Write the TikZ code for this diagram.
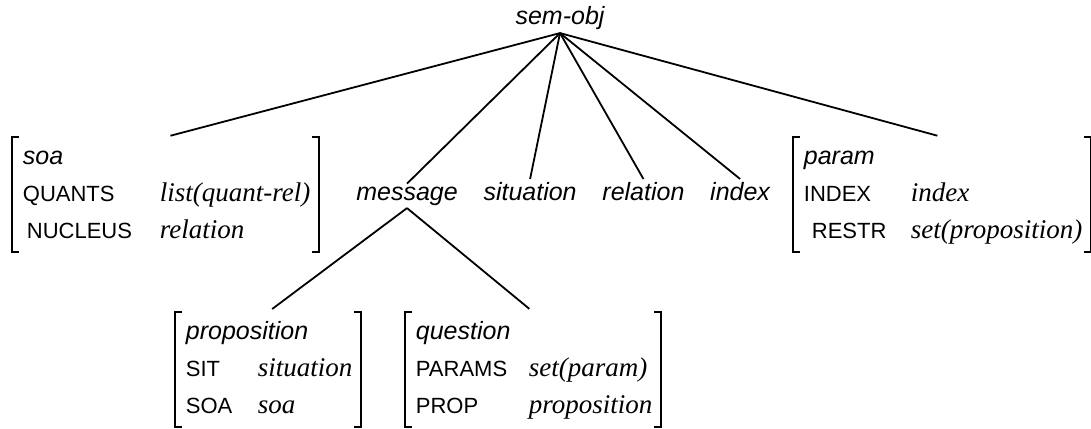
\documentclass[tikz,border=0pt]{standalone}
\usepackage{fontspec}
\setmainfont{Liberation Serif}
\setsansfont{Liberation Sans}
\usetikzlibrary{positioning}

\newcommand{\typ}[1]{{\sffamily\itshape\fontsize{12.5}{18.5}\selectfont #1}}
\newcommand{\feat}[1]{{\sffamily\fontsize{11}{18.5}\selectfont #1}}
\newcommand{\val}[1]{{\itshape\fontsize{13.5}{18.5}\selectfont #1}}
\newcommand{\avm}[6]{%
  \begin{tabular}{@{\hspace{1pt}}p{#2}@{}l@{}}
    \multicolumn{2}{@{\hspace{1pt}}l@{}}{\typ{#1}}\\
    \feat{#3} & \val{#4}\\
    \feat{#5} & \val{#6}
  \end{tabular}}

\begin{document}
\begin{tikzpicture}[x=0.5pt,y=-0.5pt,line width=0.9pt,
  lbl/.style={inner sep=1pt,font=\sffamily\itshape\fontsize{12.5}{15}\selectfont},
  avmbox/.style={inner xsep=4pt,inner ysep=0.5pt,anchor=north west,font=\fontsize{12.5}{18.5}\selectfont}]
\useasboundingbox (0,0) rectangle (1091,428);
\node[lbl,anchor=base] (semobj) at (560,25) {sem-obj};
\node[avmbox] (soa) at (12,137) {\avm{soa}{68.5pt}{QUANTS}{list(quant-rel)}{\hspace*{2pt}NUCLEUS}{relation}};
\node[lbl,anchor=base] (msg) at (407,200) {message};
\node[lbl,base right=10pt of msg] (sit) {situation};
\node[lbl,base right=10pt of sit] (rel) {relation};
\node[lbl,base right=10pt of rel] (idx) {index};
\node[avmbox] (param) at (793,137) {\avm{param}{53.5pt}{INDEX}{index}{\hspace*{4pt}RESTR}{set(proposition)}};
\node[avmbox] (prop) at (175,312) {\avm{proposition}{36pt}{SIT}{situation}{SOA}{soa}};
\node[avmbox] (quest) at (405,312) {\avm{question}{56.5pt}{PARAMS}{set(param)}{PROP}{proposition}};
% brackets
\foreach \n in {soa,param,prop,quest}{
  \draw (\n.north west) ++(7,0) -- (\n.north west) -- (\n.south west) -- ++(7,0);
  \draw (\n.north east) ++(-7,0) -- (\n.north east) -- (\n.south east) -- ++(-7,0);
}
% tree lines
\foreach \n in {msg,sit,rel,idx}{\draw (semobj.south) -- (\n.north);}
\foreach \n in {soa,param}{\draw[shorten >=2.5pt] (semobj.south) -- (\n.north);}
\foreach \n in {prop,quest}{\draw[shorten >=2.5pt] (msg.south) -- (\n.north);}
\end{tikzpicture}
\end{document}
